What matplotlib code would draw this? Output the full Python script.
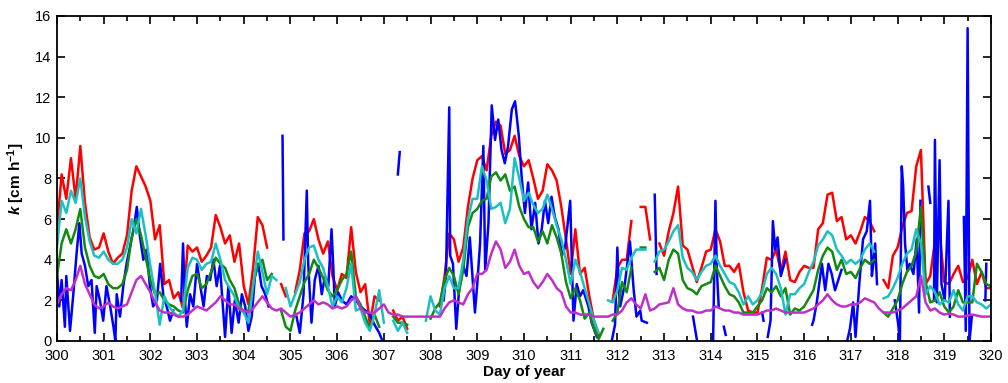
import numpy as np
import matplotlib.pyplot as plt
from matplotlib.ticker import MultipleLocator

nan = np.nan

# 0.1-day sampling for the smoother series
day = np.linspace(300, 320, 201)

red_k = [
    5.5, 8.2, 7.0, 9.0, 7.0, 9.6, 6.8, 5.1, 4.5, 4.6,   # 300
    5.3, 4.4, 3.8, 4.1, 4.3, 5.2, 7.4, 8.6, 8.1, 7.6,   # 301
    6.9, 5.0, 5.7, 2.8, 3.0, 2.1, 2.4, 1.6, 4.7, 4.4,   # 302
    4.6, 3.9, 4.2, 4.6, 6.2, 5.6, 4.8, 5.2, 3.9, 4.8,   # 303
    2.7, 1.8, 3.6, 6.1, 5.7, 4.6, nan, nan, 2.8, 2.2,   # 304
    nan, 2.4, 3.5, 5.3, 5.4, 6.0, 5.0, 4.3, 4.9, 3.2,   # 305
    2.5, 3.3, 3.1, 5.6, 3.4, 2.4, 2.8, 0.8, 2.2, 2.0,   # 306
    nan, nan, 1.5, 1.0, 1.2, 0.6, nan, nan, nan, 0.9,   # 307
    nan, nan, 1.7, 3.2, 5.3, 5.0, 3.9, 4.6, 6.6, 8.0,   # 308
    8.9, 9.1, 8.4, 10.1, 10.8, 10.6, 9.2, 9.4, 10.1, 9.1,  # 309
    8.6, 8.9, 8.0, 7.0, 7.4, 8.7, 8.4, 7.9, 6.6, 5.0,   # 310
    3.3, 5.5, 3.3, 3.6, 2.2, 1.0, 0.3, nan, nan, 2.0,   # 311
    3.6, 4.0, 4.0, 5.9, nan, 6.6, 6.6, 5.0, nan, 4.8,   # 312
    4.2, 5.4, 6.3, 7.6, 4.7, 4.5, 3.7, 2.9, 3.6, 4.4,   # 313
    4.5, 5.5, 4.9, 3.7, 3.7, 3.4, 3.8, 2.4, 1.5, 1.4,   # 314
    1.4, 2.6, 4.1, 4.0, 4.5, 3.4, 4.4, 3.0, 2.9, 3.4,   # 315
    3.7, 3.6, 3.6, 5.5, 5.8, 7.2, 7.3, 5.9, 6.1, 5.0,   # 316
    5.2, 4.8, 5.4, 6.1, 5.9, 5.4, nan, 3.0, 2.6, 4.2,   # 317
    4.6, 5.6, 6.3, 6.4, 8.6, 9.4, 2.8, 3.2, 4.9, 5.4,   # 318
    2.9, 2.8, 3.3, 3.7, 2.9, 3.1, 4.0, 2.8, 3.4, 2.6,   # 319
    2.6]

green_k = [
    3.2, 4.8, 5.5, 4.8, 5.5, 6.5, 4.6, 3.7, 3.2, 3.1,   # 300
    3.3, 2.8, 2.6, 2.6, 2.8, 3.5, 5.1, 6.0, 5.2, 4.1,   # 301
    3.0, 2.3, 2.4, 2.0, 1.8, 1.7, 1.5, 1.4, 2.5, 3.2,   # 302
    3.3, 2.6, 2.8, 3.4, 4.1, 3.8, 3.6, 3.0, 2.6, 1.8,   # 303
    1.4, 1.5, 2.8, 3.7, 4.0, 3.0, 3.3, nan, 1.5, 0.7,   # 304
    0.5, 1.5, 2.2, 2.9, 3.3, 4.0, 3.6, 3.1, 2.5, 2.2,   # 305
    2.5, 3.0, 3.3, 4.4, 2.2, 1.8, 1.2, 0.6, 1.3, 0.7,   # 306
    nan, nan, 1.2, 0.9, 0.9, 0.8, nan, nan, nan, nan,   # 307
    1.1, 1.6, 1.9, 3.0, 3.6, 3.2, 2.3, 3.5, 5.6, 6.3,   # 308
    6.5, 6.9, 7.0, 8.1, 8.3, 7.9, 8.2, 7.4, 7.6, 6.6,   # 309
    6.0, 5.6, 5.6, 4.9, 5.4, 4.8, 5.7, 5.1, 4.3, 2.9,   # 310
    2.1, 2.6, 2.0, 1.1, 1.4, 0.6, 0.1, 0.6, nan, 1.0,   # 311
    1.4, 2.9, 2.4, 3.6, nan, 4.6, 4.6, nan, 3.4, 3.6,   # 312
    3.0, 4.0, 4.5, 4.3, 3.0, 2.6, 2.5, 2.3, 2.7, 2.8,   # 313
    2.9, 3.7, 3.2, 2.7, 2.3, 2.2, 1.9, 1.4, 1.4, 1.4,   # 314
    1.7, 2.0, 2.6, 2.4, 2.7, 2.2, 2.6, 1.3, 1.6, 1.5,   # 315
    1.7, 2.1, 2.5, 3.5, 4.2, 4.6, 4.4, 3.5, 4.0, 3.3,   # 316
    3.4, 3.1, 3.6, 4.0, 3.8, 4.0, nan, 1.4, 1.2, 1.6,   # 317
    2.0, 2.8, 3.4, 3.7, 4.4, 6.6, 2.9, 1.9, 2.0, 2.4,   # 318
    1.7, 1.4, 1.7, 2.5, 1.9, 1.9, 1.9, 3.8, 3.4, 2.8,   # 319
    2.7]

cyan_k = [
    4.6, 6.9, 6.3, 7.4, 6.8, 8.0, 6.1, 4.9, 4.2, 4.1,   # 300
    4.4, 4.0, 3.8, 3.8, 4.0, 4.6, 6.0, 5.3, 6.5, 5.2,   # 301
    3.7, 2.4, 0.8, 2.2, 1.7, 1.4, 1.2, 1.5, 3.6, 4.1,   # 302
    4.0, 3.5, 3.8, 3.9, 4.8, 4.0, 3.0, 2.6, 2.2, 1.6,   # 303
    1.4, 0.9, 2.7, 4.4, 3.4, 2.3, 3.2, 3.0, nan, 2.6,   # 304
    1.7, 2.3, 2.9, 4.0, 4.6, 4.7, 4.0, 3.6, 2.7, 1.7,   # 305
    2.2, 1.9, 2.6, 3.8, 1.5, 1.6, 0.9, 0.5, 1.3, 2.5,   # 306
    0.9, nan, 1.0, 0.5, 0.9, 0.4, nan, nan, nan, 1.0,   # 307
    2.2, 1.5, 1.3, 2.6, 3.2, 2.6, 2.6, 4.0, 6.0, 7.0,   # 308
    7.0, 8.6, 7.9, 6.5, 6.6, 6.8, 5.8, 6.5, 9.0, 8.0,   # 309
    6.9, 7.3, 6.7, 6.3, 6.5, 7.2, 6.5, 5.7, 5.0, 4.0,   # 310
    2.8, 4.0, 3.4, 2.6, 1.8, 1.0, 0.4, nan, 2.0, 1.9,   # 311
    2.5, 3.6, 3.5, 4.1, 4.5, 4.5, 4.5, nan, 3.9, 4.4,   # 312
    4.5, 4.9, 5.4, 5.7, 4.1, 3.6, 3.4, 3.0, 3.4, 3.7,   # 313
    3.8, 4.2, 3.7, 3.3, 2.9, 2.8, 2.4, 1.8, 2.2, 1.8,   # 314
    2.0, 2.4, 3.3, 3.6, 3.3, 2.6, 1.3, 2.3, 2.3, 2.6,   # 315
    2.8, 3.4, 3.9, 4.7, 5.0, 5.4, 5.2, 4.5, 4.2, 3.8,   # 316
    4.0, 3.8, 4.0, 4.5, 4.8, 4.4, nan, 2.1, 2.2, 2.6,   # 317
    3.1, 3.8, 4.3, 4.5, 5.5, 4.8, 2.3, 2.7, 2.4, 1.8,   # 318
    2.0, 1.9, 2.5, 1.8, 1.5, 2.2, 2.2, 1.9, 1.8, 1.6,   # 319
    1.8]

magenta_k = [
    1.8, 2.3, 2.6, 2.5, 3.0, 3.7, 2.8, 2.3, 1.8, 1.6,   # 300
    1.7, 1.9, 1.7, 1.6, 1.7, 1.8, 2.4, 3.0, 3.2, 2.8,   # 301
    2.4, 1.9, 1.5, 1.4, 1.4, 1.3, 1.2, 1.2, 1.3, 1.5,   # 302
    1.7, 1.6, 1.5, 1.7, 1.9, 2.2, 2.0, 1.8, 1.8, 1.6,   # 303
    1.5, 1.4, 1.6, 1.9, 2.2, 1.9, 1.6, 1.5, 1.6, 1.4,   # 304
    1.2, 1.3, 1.4, 1.6, 1.8, 2.0, 1.8, 1.9, 1.8, 1.6,   # 305
    1.7, 1.6, 1.7, 2.0, 2.2, 1.6, 1.4, 1.4, 1.4, 1.6,   # 306
    1.8, 1.4, 1.3, 1.3, 1.2, 1.2, 1.2, 1.2, 1.2, 1.2,   # 307
    1.2, 1.2, 1.2, 1.6, 1.9, 2.0, 1.9, 1.8, 2.3, 2.6,   # 308
    3.3, 3.3, 3.5, 4.3, 4.9, 4.5, 3.6, 3.9, 4.5, 3.7,   # 309
    3.3, 3.4, 2.9, 2.6, 2.9, 3.3, 3.0, 2.6, 2.4, 1.7,   # 310
    1.4, 1.4, 1.3, 1.3, 1.3, 1.2, 1.2, 1.2, 1.2, 1.3,   # 311
    1.3, 1.5, 1.9, 2.1, 1.8, 1.6, 2.3, 1.5, 1.6, 1.8,   # 312
    1.85, 1.9, 2.6, 1.8, 1.6, 1.5, 1.5, 1.4, 1.4, 1.5,  # 313
    1.5, 1.7, 1.6, 1.5, 1.5, 1.4, 1.4, 1.3, 1.3, 1.3,   # 314
    1.3, 1.4, 1.5, 1.5, 1.6, 1.5, 1.4, 1.4, 1.4, 1.4,   # 315
    1.4, 1.5, 1.6, 1.8, 2.0, 2.3, 2.0, 1.8, 1.7, 1.7,   # 316
    1.8, 1.8, 1.9, 2.1, 2.0, 1.9, 1.6, 1.4, 1.4, 1.4,   # 317
    1.5, 1.6, 1.8, 2.0, 2.2, 3.2, 1.9, 1.5, 1.6, 1.4,   # 318
    1.3, 1.35, 1.3, 1.2, 1.2, 1.25, 1.3, 1.25, 1.2, 1.2,  # 319
    1.2]

# the blue series is spiky, so it keeps its own (day, k) readings
blue_day = [
    300.00, 300.05, 300.10, 300.17, 300.20, 300.28, 300.35, 300.42, 300.48, 300.53,
    300.60, 300.67, 300.74, 300.81, 300.85, 300.92, 300.99, 301.06, 301.14, 301.21,
    301.25, 301.28, 301.35, 301.42, 301.49, 301.56, 301.64, 301.71, 301.78, 301.85,
    301.92, 301.99, 302.06, 302.14, 302.21, 302.28, 302.35, 302.42, 302.49, 302.52,
    302.66, 302.70, 302.74, 302.78, 302.85, 302.92, 303.00, 303.07, 303.14, 303.21,
    303.28, 303.35, 303.42, 303.49, 303.56, 303.60, 303.67, 303.74, 303.81, 303.89,
    303.96, 304.03, 304.10, 304.17, 304.24, 304.31, 304.38, 304.46, 304.53, 304.56,
    304.83, 304.85, 304.87,
    305.13, 305.20, 305.28, 305.35, 305.38, 305.45, 305.52, 305.60, 305.67, 305.74,
    305.81, 305.88, 305.92, 305.95, 306.02, 306.10, 306.20, 306.30, 306.40, 306.50,
    306.60, 306.70, 306.80, 306.90, 306.97, 307.00, 307.30, 307.34, 307.36,
    308.28, 308.33, 308.40, 308.42, 308.48, 308.55, 308.62, 308.70, 308.77, 308.84,
    308.95, 309.00, 309.06, 309.13, 309.17, 309.24, 309.31, 309.38, 309.45, 309.52,
    309.59, 309.66, 309.74, 309.81, 309.89, 309.95, 310.02, 310.09, 310.16, 310.24,
    310.31, 310.38, 310.45, 310.52, 310.59, 310.66, 310.74, 310.81, 310.88, 310.99,
    311.06, 311.13, 311.20, 311.27, 311.38, 311.45, 311.56, 311.60,
    311.88, 311.95, 312.00, 312.03, 312.06, 312.16, 312.27, 312.35, 312.41, 312.49,
    312.52, 312.63, 312.68, 312.80, 312.84, 312.88, 313.62, 313.70, 313.72,
    314.05, 314.10, 314.13, 314.17, 314.22, 314.28, 314.32, 314.34,
    315.10, 315.13, 315.15, 315.22, 315.28, 315.33, 315.38, 315.43, 315.50, 315.60,
    315.63, 316.17, 316.20, 316.27, 316.38, 316.45, 316.52, 316.59, 316.66, 316.73,
    316.80, 316.84, 316.92, 316.98, 317.05, 317.10, 317.18, 317.26, 317.34, 317.41,
    317.45, 317.48, 317.52, 317.56, 317.60,
    317.94, 318.01, 318.05, 318.09, 318.12, 318.16, 318.21, 318.26, 318.34, 318.41,
    318.46, 318.49, 318.53, 318.66, 318.70, 318.72, 318.78, 318.80, 318.84, 318.90,
    318.94, 319.01, 319.09, 319.12, 319.16, 319.42, 319.46, 319.50, 319.54, 319.59,
    319.62, 319.88, 319.90, 319.92]

blue_k = [
    3.5, 1.7, 3.0, 0.7, 3.2, 0.5, 2.3, 4.3, 5.8, 4.3,
    3.7, 2.7, 3.0, 0.4, 2.7, 2.0, 1.0, 2.7, 1.7, 0.7,
    0.0, 2.3, 1.2, 2.7, 3.8, 4.6, 5.5, 6.6, 5.1, 4.0,
    4.5, 2.7, 1.7, 2.0, 3.8, 2.2, 1.7, 1.0, 1.5, nan,
    2.0, 4.8, 2.0, 0.7, 2.3, 1.7, 3.8, 2.7, 1.7, 3.2,
    3.0, 4.0, 2.7, 3.7, 1.5, 0.2, 2.7, 0.4, 2.0, 0.9,
    2.3, 1.7, 0.5, 1.2, 3.2, 3.8, 2.7, 2.3, 1.7, nan,
    10.1, 5.0, nan,
    1.2, 0.4, 2.3, 7.4, 3.8, 0.9, 3.0, 3.7, 2.3, 3.2,
    2.7, 5.5, 3.5, 1.7, 2.4, 2.0, 1.8, 2.2, 2.0, 1.7,
    1.5, 1.3, 0.8, 0.4, 0.0, nan, 8.2, 9.3, nan,
    2.0, 3.2, 11.5, 4.2, 3.8, 0.6, 2.8, 3.7, 3.2, 5.1,
    1.4, 2.8, 4.8, 9.6, 3.5, 5.8, 11.6, 9.9, 10.9, 9.4,
    8.75, 9.6, 11.4, 11.8, 10.1, 8.1, 6.3, 7.8, 5.5, 6.8,
    4.8, 5.5, 6.9, 5.8, 7.1, 6.1, 5.5, 4.2, 4.6, 6.9,
    1.0, 2.8, 2.2, 2.5, 1.7, 0.9, 0.2, nan,
    0.0, 0.8, 4.6, 2.5, 1.7, 2.8, 4.9, 2.5, 1.2, 1.5,
    1.0, 0.9, nan, 7.2, 3.3, nan, 1.2, 0.1, nan,
    0.0, 6.9, 3.5, 1.7, nan, 0.7, 0.3, nan,
    1.4, 1.0, nan, 0.2, 1.0, 5.9, 4.5, 5.1, 3.2, 4.0,
    nan, 0.8, 1.0, 1.9, 3.8, 2.5, 3.8, 3.3, 2.5, 3.0,
    3.5, nan, 0.0, 0.6, 1.9, 0.2, 2.8, 5.0, 5.4, 6.9,
    3.2, 3.8, 4.8, 2.8, nan,
    2.0, 0.9, 0.0, 8.6, 7.6, 4.8, 3.5, 3.8, 3.3, 5.0,
    1.4, 6.9, nan, 7.6, 6.8, nan, 2.0, 9.9, 1.9, 8.9,
    2.8, 2.0, 6.9, 1.2, nan, 6.1, 0.5, 15.4, 0.0, 1.2,
    nan, 2.0, 3.8, nan]

day_ticks = list(range(300, 321))

plt.rcParams['font.family'] = ['Liberation Sans', 'DejaVu Sans']
plt.rcParams['mathtext.fontset'] = 'custom'
plt.rcParams['mathtext.it'] = 'Liberation Sans:bold:italic'
plt.rcParams['mathtext.rm'] = 'Liberation Sans:bold'

fig = plt.figure(figsize=(10.08, 3.83), dpi=100)
ax = fig.add_axes([0.0565, 0.1097, 0.9266, 0.8486])

lw = 1.8
ax.plot(day, red_k, color='#ff0000', lw=lw)
ax.plot(blue_day, blue_k, color='#0000ff', lw=lw)
ax.plot(day, green_k, color='#128a12', lw=lw)
ax.plot(day, cyan_k, color='#1cc0c0', lw=lw)
ax.plot(day, magenta_k, color='#c030c8', lw=lw)

ax.set_xlim(300, 320)
ax.set_ylim(0, 16)
ax.set_xticks(day_ticks)
ax.xaxis.set_minor_locator(MultipleLocator(0.5))
ax.yaxis.set_major_locator(MultipleLocator(2))
ax.tick_params(which='both', direction='in', top=True, right=True,
               labelsize=10.5, width=1.2)
ax.tick_params(which='major', length=6)
ax.tick_params(which='minor', length=3.5)
ax.tick_params(axis='x', pad=6)
ax.tick_params(axis='y', pad=4)
for s in ax.spines.values():
    s.set_linewidth(1.3)

ax.set_xlabel('Day of year', fontsize=11, fontweight='bold', labelpad=1)
ax.set_ylabel(r'$k$ [cm h$^{-1}$]', fontsize=11, fontweight='bold', labelpad=6)

fig.savefig('out.png', dpi=100)
